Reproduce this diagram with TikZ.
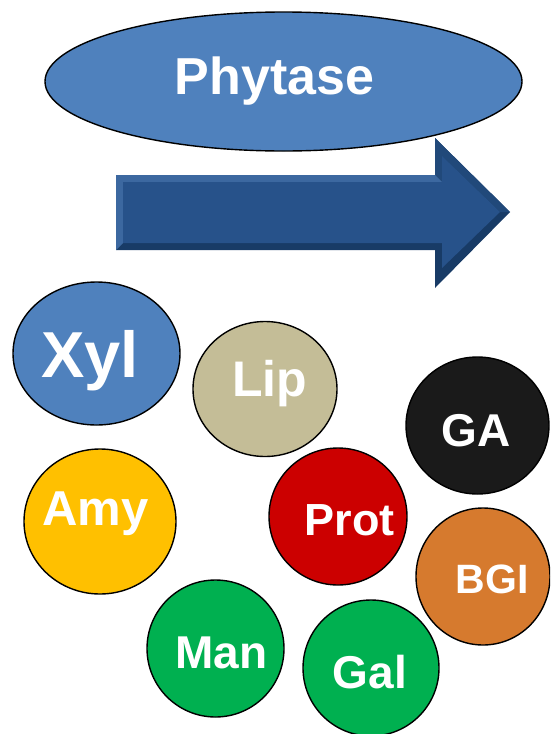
\documentclass[tikz,border=0pt]{standalone}
\usepackage{fontspec}
\setmainfont{Liberation Sans}
\usetikzlibrary{shapes.geometric}
\definecolor{cblue}{HTML}{4F81BD}
\definecolor{clip}{HTML}{C4BD97}
\definecolor{cga}{HTML}{1A1A1A}
\definecolor{cprot}{HTML}{CC0000}
\definecolor{camy}{HTML}{FFC000}
\definecolor{cbgi}{HTML}{D67A2E}
\definecolor{cgreen}{HTML}{00B050}
\definecolor{arrface}{HTML}{27528A}
\definecolor{arrlight}{HTML}{3C68A0}
\definecolor{arrdark}{HTML}{183B66}
\definecolor{arrmid}{HTML}{21497A}
\tikzset{
  blob/.style={ellipse, draw=black, line width=1.4pt, inner sep=0pt},
  lbl/.style={anchor=base, inner sep=0pt, text=white, font=\bfseries}
}
\begin{document}
\begin{tikzpicture}[x=1pt,y=-1pt]
\useasboundingbox (0,0) rectangle (550,734);
\clip (0,0) rectangle (550,734);
% arrow
\fill[arrdark] (116,175) -- (435,175) -- (435,138) -- (510,212) -- (435,288) -- (435,250) -- (116,250) -- cycle;
\fill[arrmid] (435,138) -- (510,212) -- (500,212) -- (442,156) -- (442,182) -- (435,175) -- cycle;
\fill[arrlight] (116,250) -- (116,175) -- (435,175) -- (442,182) -- (123,182) -- (123,243) -- cycle;
\fill[arrface] (123,182) -- (442,182) -- (442,156) -- (500,212) -- (442,268) -- (442,243) -- (123,243) -- cycle;
% ellipses
\node[blob, fill=cblue, minimum width=477pt, minimum height=139pt] (phy) at (283.5,81.5) {};
\node[blob, fill=cblue, minimum width=167pt, minimum height=143pt] (xyl) at (96.5,353.5) {};
\node[blob, fill=clip, minimum width=144pt, minimum height=135pt] (lip) at (265,389) {};
\node[blob, fill=cga, minimum width=143pt, minimum height=137pt] (ga) at (477.5,425.5) {};
\node[blob, fill=camy, minimum width=152pt, minimum height=145pt] (amy) at (100,521.5) {};
\node[blob, fill=cprot, minimum width=138pt, minimum height=137pt] (prot) at (338,516.5) {};
\node[blob, fill=cbgi, minimum width=134pt, minimum height=137pt] (bgi) at (483,576.5) {};
\node[blob, fill=cgreen, minimum width=137pt, minimum height=137pt] (man) at (215.5,648.5) {};
\node[blob, fill=cgreen, minimum width=136pt, minimum height=136pt] (gal) at (371,668) {};
% labels
\node[lbl, font=\bfseries\fontsize{52}{52}\selectfont] (tphy) at (274.5,94) {Phytase};
\node[lbl, font=\bfseries\fontsize{65}{65}\selectfont] (txyl) at (90,377) {Xyl};
\node[lbl, font=\bfseries\fontsize{50}{50}\selectfont] (tlip) at (269.5,396) {Lip};
\node[lbl, font=\bfseries\fontsize{46}{46}\selectfont] (tga) at (476,446) {GA};
\node[lbl, font=\bfseries\fontsize{49}{49}\selectfont] (tamy) at (95.5,525) {Amy};
\node[lbl, font=\bfseries\fontsize{45}{45}\selectfont] (tprot) at (349.5,535) {Prot};
\node[lbl, font=\bfseries\fontsize{41}{41}\selectfont] (tbgi) at (492,593) {BGI};
\node[lbl, font=\bfseries\fontsize{46}{46}\selectfont] (tman) at (221.5,668) {Man};
\node[lbl, font=\bfseries\fontsize{46}{46}\selectfont] (tgal) at (370,688) {Gal};
\end{tikzpicture}
\end{document}
